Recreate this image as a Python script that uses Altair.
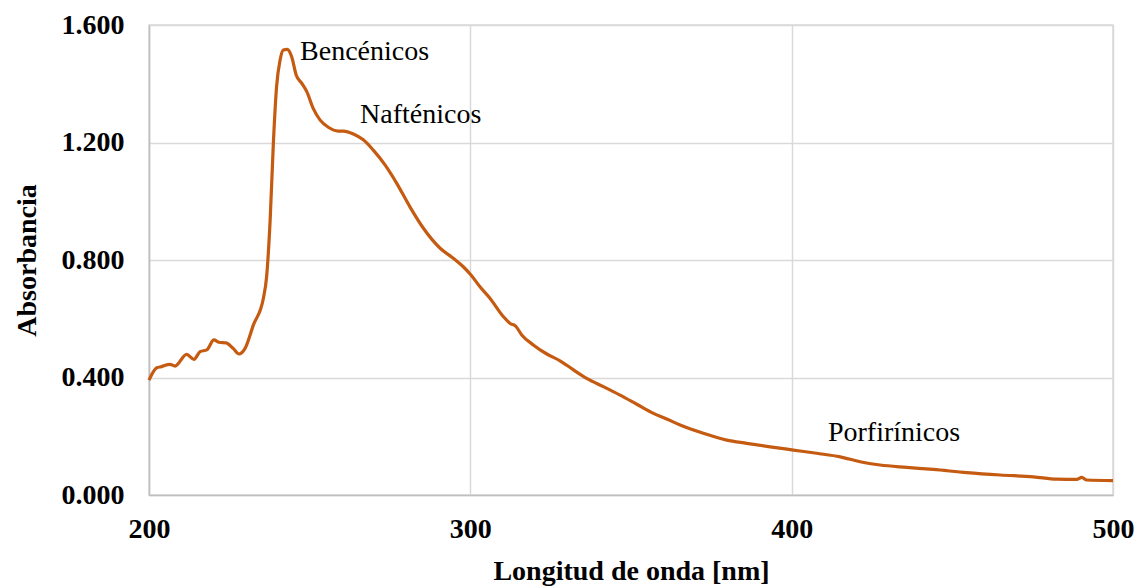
import altair as alt
import pandas as pd

wavelength = [200, 202.4, 203.9, 206.5, 208.1, 211.7, 214.0, 215.9, 218.0, 220.2,
              221.8, 224.0, 226.2, 228.0, 229.9, 232.5, 235.6, 236.6, 237.7, 238.7,
              239.7, 240.8, 241.8, 243.0, 244.4, 245.8, 247.5, 249.1, 251.1, 253.2,
              255.8, 258.9, 260.5, 263.6, 266.7, 269.8, 273.5, 277.1, 281.2, 285.4,
              290.6, 294.7, 297.8, 300.2, 303.0, 306.1, 310.3, 312.4, 314.1, 316.0,
              319.6, 323.8, 327.9, 332.1, 336.2, 341.4, 346.6, 351.8, 357.0, 361.1,
              365.3, 372.5, 379.8, 386.0, 393.3, 400.5, 407.8, 415.1, 421.3, 427.5,
              435.8, 444.1, 454.5, 464.9, 475.2, 482.5, 488.7, 490.3, 491.8, 500]
absorbance = [0.391, 0.433, 0.437, 0.445, 0.439, 0.479, 0.462, 0.488, 0.494, 0.528,
              0.520, 0.518, 0.499, 0.480, 0.499, 0.579, 0.670, 0.743, 0.936, 1.197,
              1.390, 1.481, 1.515, 1.517, 1.492, 1.430, 1.402, 1.373, 1.316, 1.277,
              1.252, 1.239, 1.239, 1.229, 1.209, 1.174, 1.123, 1.061, 0.981, 0.908,
              0.840, 0.806, 0.777, 0.749, 0.709, 0.670, 0.607, 0.584, 0.575, 0.545,
              0.511, 0.480, 0.457, 0.426, 0.397, 0.369, 0.340, 0.309, 0.278, 0.259,
              0.238, 0.210, 0.187, 0.176, 0.164, 0.153, 0.142, 0.130, 0.113, 0.102,
              0.094, 0.087, 0.076, 0.068, 0.062, 0.054, 0.053, 0.060, 0.051, 0.049]

labels = ["Bencénicos", "Nafténicos", "Porfirínicos"]
label_x = [247.0, 265.7, 411.3]
label_y = [1.508, 1.294, 0.211]

x_ticks = [200, 300, 400, 500]
y_ticks = [0.0, 0.4, 0.8, 1.2, 1.6]

df = pd.DataFrame({"wl": wavelength, "abs": absorbance})
lab = pd.DataFrame({"label": labels, "x": label_x, "y": label_y})

FONT = "Liberation Serif"

x_scale = alt.Scale(domain=[200, 500], nice=False, zero=False)
y_scale = alt.Scale(domain=[0, 1.6], nice=False)

line = alt.Chart(df).mark_line(color="#C55A11", strokeWidth=3.2, interpolate="monotone").encode(
    x=alt.X("wl:Q", scale=x_scale,
            axis=alt.Axis(title="Longitud de onda [nm]", values=x_ticks, format="d",
                          labelPadding=20, titlePadding=14)),
    y=alt.Y("abs:Q", scale=y_scale,
            axis=alt.Axis(title="Absorbancia", values=y_ticks, format=".3f",
                          labelPadding=25, titlePadding=20)),
)

text = alt.Chart(lab).mark_text(align="left", baseline="middle", font=FONT,
                                fontSize=28, color="#000000").encode(
    x=alt.X("x:Q", scale=x_scale),
    y=alt.Y("y:Q", scale=y_scale),
    text="label:N",
)

chart = alt.layer(line, text).properties(
    width=964, height=470,
    padding={"left": 149, "top": 25, "right": 25, "bottom": 91},
    autosize=alt.AutoSizeParams(type="none"),
    background="white",
).configure_view(
    stroke="#d9d9d9", strokeWidth=1.5
).configure_axis(
    labelFont=FONT, titleFont=FONT, labelFontSize=28, titleFontSize=28,
    labelFontWeight="bold", titleFontWeight="bold",
    labelColor="#000000", titleColor="#000000",
    ticks=False, tickSize=0,
    domainColor="#bfbfbf", domainWidth=1.5,
    gridColor="#d9d9d9", gridWidth=1.5,
    labelOverlap=False, labelFlush=False,
)

chart.save("out.html", embed_options={"renderer": "svg", "actions": False})
